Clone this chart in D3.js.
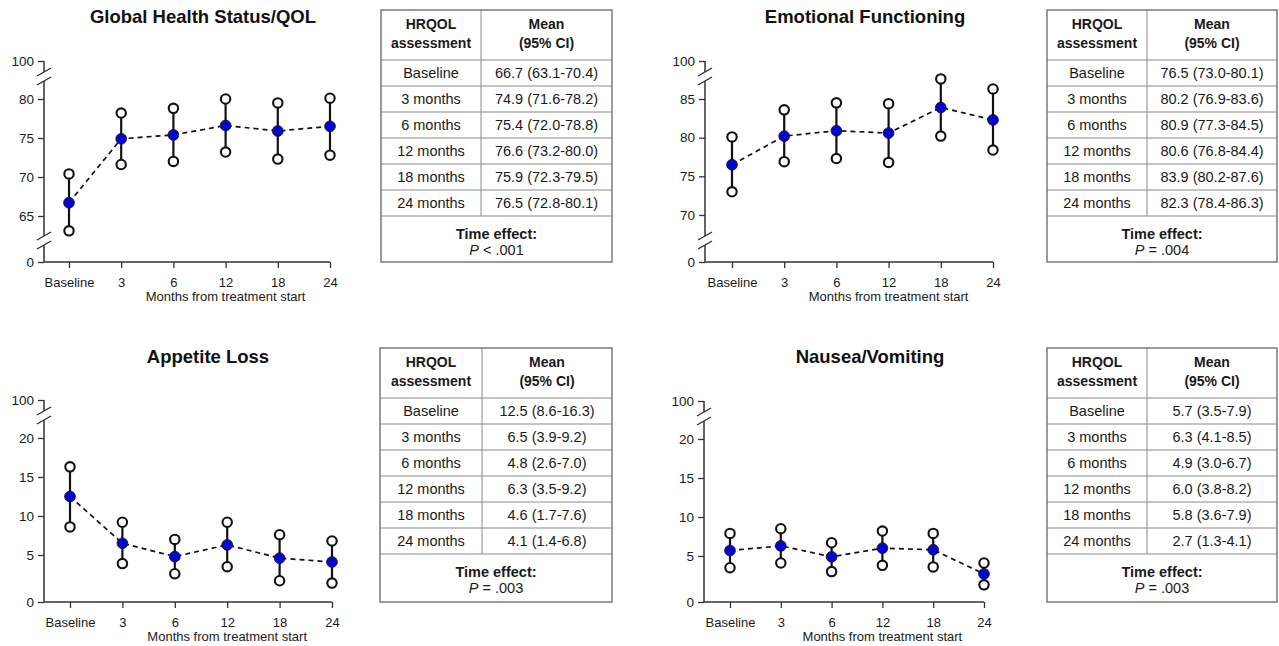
<!DOCTYPE html>
<html>
<head>
<meta charset="utf-8">
<script src="https://cdn.jsdelivr.net/npm/d3@7"></script>
<style>
  html, body { margin: 0; padding: 0; background: #ffffff; }
  svg { display: block; }
</style>
</head>
<body>
<svg id="chart" width="1279" height="646"></svg>
<script>
// ---------- DATA ----------
const categories = ["Baseline", "3", "6", "12", "18", "24"];
const assessmentLabels = ["Baseline", "3 months", "6 months", "12 months", "18 months", "24 months"];

const ghsMean = [66.7, 74.9, 75.4, 76.6, 75.9, 76.5];
const ghsLow  = [63.1, 71.6, 72.0, 73.2, 72.3, 72.8];
const ghsHigh = [70.4, 78.2, 78.8, 80.0, 79.5, 80.1];
const ghsTicks = [0, 65, 70, 75, 80, 100];
const ghsP = "< .001";

const efMean = [76.5, 80.2, 80.9, 80.6, 83.9, 82.3];
const efLow  = [73.0, 76.9, 77.3, 76.8, 80.2, 78.4];
const efHigh = [80.1, 83.6, 84.5, 84.4, 87.6, 86.3];
const efTicks = [0, 70, 75, 80, 85, 100];
const efP = "= .004";

const alMean = [12.5, 6.5, 4.8, 6.3, 4.6, 4.1];
const alLow  = [8.6, 3.9, 2.6, 3.5, 1.7, 1.4];
const alHigh = [16.3, 9.2, 7.0, 9.2, 7.6, 6.8];
const alTicks = [0, 5, 10, 15, 20, 100];
const alP = "= .003";

const nvMean = [5.7, 6.3, 4.9, 6.0, 5.8, 2.7];
const nvLow  = [3.5, 4.1, 3.0, 3.8, 3.6, 1.3];
const nvHigh = [7.9, 8.5, 6.7, 8.2, 7.9, 4.1];
const nvTicks = [0, 5, 10, 15, 20, 100];
const nvP = "= .003";

const titles = ["Global Health Status/QOL", "Emotional Functioning", "Appetite Loss", "Nausea/Vomiting"];
const xAxisTitle = "Months from treatment start";
const tableHeader1 = ["HRQOL", "assessment"];
const tableHeader2 = ["Mean", "(95% CI)"];
const footerLabel = "Time effect:";

// ---------- LAYOUT ----------
const FONT = "'Liberation Sans', Arial, Helvetica, sans-serif";
const BLUE = "#0505d0";
const AXIS = "#333";
const TEXT = "#1a1a1a";

const layout = [
  { axisX: 44,  xRange: [69, 330],  topY: 61,  zeroY: 262, anchor: [65, 216, 80, 99],  brk: [62, 82], lowerBreak: true,  titleX: 203, titleY: 23,
    table: { x: 381, y: 10, w: 231, c1: 100, hH: 50, rH: 26, fH: 46 } },
  { axisX: 705, xRange: [732, 993], topY: 61,  zeroY: 262, anchor: [70, 215, 85, 99],  brk: [67, 88], lowerBreak: true,  titleX: 865, titleY: 23,
    table: { x: 1047, y: 10, w: 230, c1: 100, hH: 50, rH: 26, fH: 46 } },
  { axisX: 44,  xRange: [70, 332],  topY: 400, zeroY: 602, anchor: [5, 555, 20, 438],  brk: [1, 21],  lowerBreak: false, titleX: 208, titleY: 363,
    table: { x: 380, y: 348, w: 232, c1: 102, hH: 50, rH: 26, fH: 48 } },
  { axisX: 704, xRange: [730, 984], topY: 401, zeroY: 602, anchor: [5, 556, 20, 439],  brk: [1, 21],  lowerBreak: false, titleX: 870, titleY: 363,
    table: { x: 1047, y: 348, w: 230, c1: 100, hH: 50, rH: 26, fH: 48 } }
];

const panelData = [
  { mean: ghsMean, low: ghsLow, high: ghsHigh, ticks: ghsTicks, p: ghsP },
  { mean: efMean,  low: efLow,  high: efHigh,  ticks: efTicks,  p: efP },
  { mean: alMean,  low: alLow,  high: alHigh,  ticks: alTicks,  p: alP },
  { mean: nvMean,  low: nvLow,  high: nvHigh,  ticks: nvTicks,  p: nvP }
];

const svg = d3.select("#chart");

function drawPanel(i) {
  const L = layout[i], D = panelData[i];
  const g = svg.append("g");

  // piecewise (broken) y scale
  const [v0, p0, v1, p1] = L.anchor;
  const k = (p0 - p1) / (v1 - v0);
  const lin = v => p0 - (v - v0) * k;
  const y = d3.scaleLinear()
    .domain([0, L.brk[0], L.brk[1], 100])
    .range([L.zeroY, lin(L.brk[0]), lin(L.brk[1]), L.topY]);
  const x = d3.scalePoint().domain(categories).range(L.xRange);

  // title
  g.append("text")
    .attr("x", L.titleX).attr("y", L.titleY)
    .attr("text-anchor", "middle")
    .attr("font-family", FONT).attr("font-size", 18.5).attr("font-weight", "bold")
    .attr("fill", "#111")
    .text(titles[i]);

  // y axis (ticks + labels)
  const yAx = g.append("g").attr("transform", `translate(${L.axisX},0)`)
    .call(d3.axisLeft(y).tickValues(D.ticks).tickSize(6).tickPadding(4).tickFormat(d3.format("d")));
  yAx.select(".domain").remove();
  yAx.selectAll(".tick line").attr("stroke", AXIS).attr("stroke-width", 1.3);
  yAx.selectAll(".tick text").attr("font-family", FONT).attr("font-size", 13.5).attr("fill", TEXT);

  // y axis line with breaks
  const ax = L.axisX;
  const segs = [];
  const upA = L.topY + 11, upB = L.topY + 20;
  segs.push([L.topY, upA]);
  if (L.lowerBreak) {
    const loA = L.zeroY - 26, loB = L.zeroY - 17;
    segs.push([upB, loA]);
    segs.push([loB, L.zeroY]);
    [loA, loB].forEach(yy => g.append("line")
      .attr("x1", ax - 7).attr("y1", yy + 4).attr("x2", ax + 7).attr("y2", yy - 4)
      .attr("stroke", AXIS).attr("stroke-width", 1.4));
  } else {
    segs.push([upB, L.zeroY]);
  }
  [upA, upB].forEach(yy => g.append("line")
    .attr("x1", ax - 7).attr("y1", yy + 4).attr("x2", ax + 7).attr("y2", yy - 4)
    .attr("stroke", AXIS).attr("stroke-width", 1.4));
  segs.forEach(s => g.append("line")
    .attr("x1", ax).attr("x2", ax).attr("y1", s[0]).attr("y2", s[1])
    .attr("stroke", AXIS).attr("stroke-width", 1.5));

  // x axis
  const xAx = g.append("g").attr("transform", `translate(0,${L.zeroY})`)
    .call(d3.axisBottom(x).tickSize(6).tickPadding(10));
  xAx.select(".domain").remove();
  xAx.selectAll(".tick line").attr("stroke", AXIS).attr("stroke-width", 1.3);
  xAx.selectAll(".tick text").attr("font-family", FONT).attr("font-size", 13).attr("fill", TEXT);
  g.append("line")
    .attr("x1", ax).attr("x2", x(categories[categories.length - 1]))
    .attr("y1", L.zeroY).attr("y2", L.zeroY)
    .attr("stroke", AXIS).attr("stroke-width", 1.5);

  g.append("text")
    .attr("x", (x(categories[1]) + x(categories[categories.length - 1])) / 2)
    .attr("y", L.zeroY + 39)
    .attr("text-anchor", "middle")
    .attr("font-family", FONT).attr("font-size", 13).attr("fill", TEXT)
    .text(xAxisTitle);

  const pts = categories.map((c, j) => ({ c, m: D.mean[j], lo: D.low[j], hi: D.high[j] }));

  // dashed mean line
  g.append("path")
    .datum(pts)
    .attr("d", d3.line().x(d => x(d.c)).y(d => y(d.m)))
    .attr("fill", "none").attr("stroke", "#111").attr("stroke-width", 1.7)
    .attr("stroke-dasharray", "5,4");

  // error bars
  g.selectAll(".eb").data(pts).enter().append("line")
    .attr("x1", d => x(d.c)).attr("x2", d => x(d.c))
    .attr("y1", d => y(d.lo)).attr("y2", d => y(d.hi))
    .attr("stroke", "#111").attr("stroke-width", 2.2);

  const ends = [];
  pts.forEach(d => { ends.push({ c: d.c, v: d.lo }); ends.push({ c: d.c, v: d.hi }); });
  g.selectAll(".end").data(ends).enter().append("circle")
    .attr("cx", d => x(d.c)).attr("cy", d => y(d.v)).attr("r", 4.7)
    .attr("fill", "#fff").attr("stroke", "#111").attr("stroke-width", 2.1);

  g.selectAll(".mean").data(pts).enter().append("circle")
    .attr("cx", d => x(d.c)).attr("cy", d => y(d.m)).attr("r", 5.4)
    .attr("fill", BLUE).attr("stroke", "#111").attr("stroke-width", 0.8);

  drawTable(L.table, D);
}

function drawTable(T, D) {
  const g = svg.append("g").attr("font-family", FONT).attr("fill", TEXT);
  const nRows = assessmentLabels.length;
  const H = T.hH + nRows * T.rH + T.fH;
  const c1x = T.x + T.c1 / 2;
  const c2x = T.x + T.c1 + (T.w - T.c1) / 2;

  // inner lines
  const inner = "#8a8a8a";
  g.append("line").attr("x1", T.x + T.c1).attr("x2", T.x + T.c1)
    .attr("y1", T.y).attr("y2", T.y + T.hH + nRows * T.rH)
    .attr("stroke", inner).attr("stroke-width", 1);
  for (let r = 0; r <= nRows; r++) {
    const yy = T.y + T.hH + r * T.rH;
    g.append("line").attr("x1", T.x).attr("x2", T.x + T.w)
      .attr("y1", yy).attr("y2", yy)
      .attr("stroke", inner).attr("stroke-width", 1);
  }
  g.append("rect").attr("x", T.x).attr("y", T.y).attr("width", T.w).attr("height", H)
    .attr("fill", "none").attr("stroke", "#666").attr("stroke-width", 1.3);

  // header
  [tableHeader1, tableHeader2].forEach((lines, ci) => {
    lines.forEach((t, li) => {
      g.append("text").attr("x", ci === 0 ? c1x : c2x).attr("y", T.y + 19 + li * 19)
        .attr("text-anchor", "middle").attr("font-size", 14).attr("font-weight", "bold")
        .text(t);
    });
  });

  // rows
  assessmentLabels.forEach((lab, r) => {
    const cy = T.y + T.hH + r * T.rH + T.rH / 2 + 5;
    g.append("text").attr("x", c1x).attr("y", cy).attr("text-anchor", "middle")
      .attr("font-size", 14.5).text(lab);
    const val = `${D.mean[r].toFixed(1)} (${D.low[r].toFixed(1)}-${D.high[r].toFixed(1)})`;
    g.append("text").attr("x", c2x).attr("y", cy).attr("text-anchor", "middle")
      .attr("font-size", 14.5).text(val);
  });

  // footer
  const fy = T.y + T.hH + nRows * T.rH;
  g.append("text").attr("x", T.x + T.w / 2).attr("y", fy + 23)
    .attr("text-anchor", "middle").attr("font-size", 14.5).attr("font-weight", "bold")
    .text(footerLabel);
  const pt = g.append("text").attr("x", T.x + T.w / 2).attr("y", fy + 39)
    .attr("text-anchor", "middle").attr("font-size", 14.5);
  pt.append("tspan").attr("font-style", "italic").text("P");
  pt.append("tspan").text(" " + D.p);
}

[0, 1, 2, 3].forEach(drawPanel);
</script>
</body>
</html>
